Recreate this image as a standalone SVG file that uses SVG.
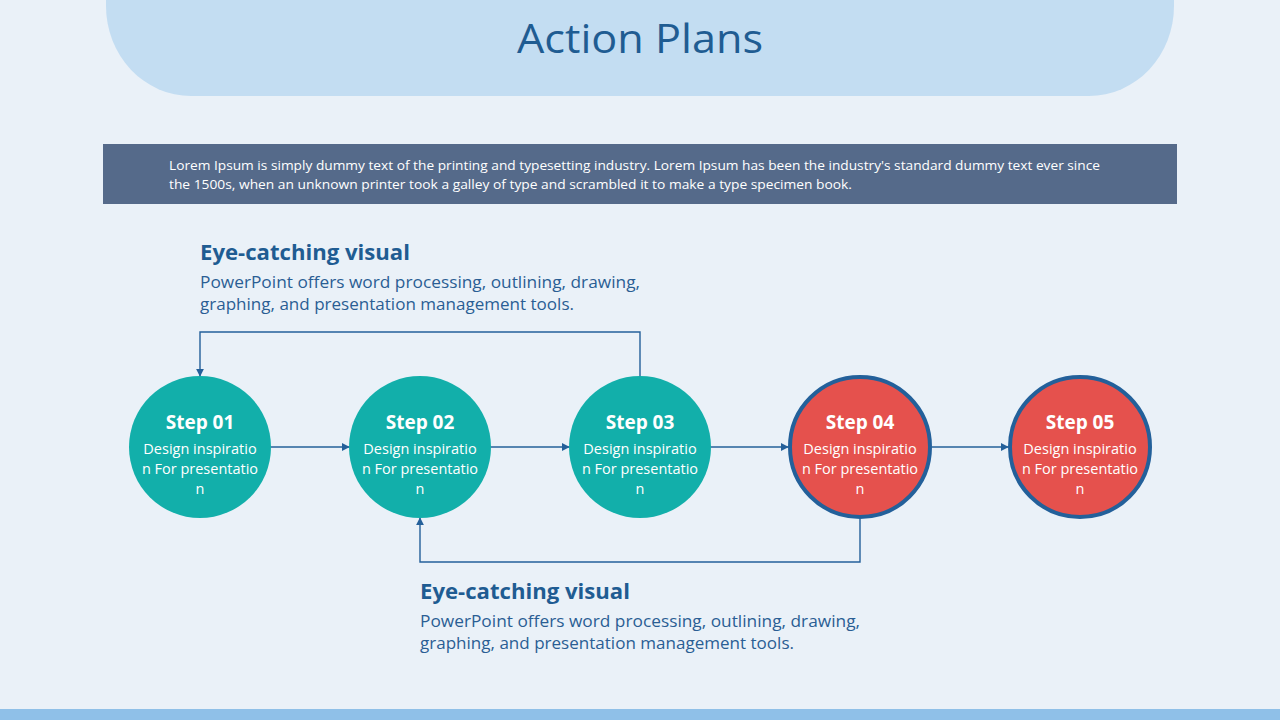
<svg xmlns="http://www.w3.org/2000/svg" width="1280" height="720" viewBox="0 0 1280 720">
<defs>
<marker id="arr" viewBox="0 0 10 10" refX="9" refY="5" markerWidth="8" markerHeight="8" markerUnits="userSpaceOnUse" orient="auto">
<path d="M0,0 L10,5 L0,10 z" fill="#24609a"/>
</marker>
<style>
.teal{fill:#12afaa}
.red{fill:#e5514d;stroke:#23609a;stroke-width:4}
.st{font-family:"Open Sans","Noto Sans",sans-serif;font-weight:700;font-size:19px;fill:#ffffff;text-anchor:middle}
.ds{font-family:"Open Sans","Noto Sans",sans-serif;font-size:14.5px;fill:#ffffff;text-anchor:middle}
.hd{font-family:"Open Sans","Noto Sans",sans-serif;font-weight:700;font-size:21px;fill:#1f5c92}
.bd{font-family:"Open Sans","Noto Sans",sans-serif;font-size:16.5px;fill:#2a5e94}
.cn{fill:none;stroke:#24609a;stroke-width:1.4}
</style>
</defs>
<rect x="0" y="0" width="1280" height="720" fill="#eaf1f8"/>
<g id="header">
<rect x="106" y="-100" width="1068" height="196" rx="85" ry="90" fill="#c3ddf2"/>
<text x="640" y="53" text-anchor="middle" font-family="Open Sans,Noto Sans,sans-serif" font-size="40" fill="#1f5c92" textLength="246" lengthAdjust="spacingAndGlyphs">Action Plans</text>
</g>
<g id="banner">
<rect x="103" y="144" width="1074" height="60" fill="#556a8a"/>
<text x="169" y="170" font-family="Open Sans,Noto Sans,sans-serif" font-size="13.5" fill="#ffffff" textLength="931" lengthAdjust="spacingAndGlyphs">Lorem Ipsum is simply dummy text of the printing and typesetting industry. Lorem Ipsum has been the industry's standard dummy text ever since</text>
<text x="169" y="189" font-family="Open Sans,Noto Sans,sans-serif" font-size="13.5" fill="#ffffff" textLength="683" lengthAdjust="spacingAndGlyphs">the 1500s, when an unknown printer took a galley of type and scrambled it to make a type specimen book.</text>
</g>
<g id="note-top">
<text class="hd" x="200" y="260" textLength="210" lengthAdjust="spacingAndGlyphs">Eye-catching visual</text>
<text class="bd" x="200" y="288" textLength="440" lengthAdjust="spacingAndGlyphs">PowerPoint offers word processing, outlining, drawing,</text>
<text class="bd" x="200" y="310" textLength="374" lengthAdjust="spacingAndGlyphs">graphing, and presentation management tools.</text>
</g>
<g id="note-bottom">
<text class="hd" x="420" y="599" textLength="210" lengthAdjust="spacingAndGlyphs">Eye-catching visual</text>
<text class="bd" x="420" y="627" textLength="440" lengthAdjust="spacingAndGlyphs">PowerPoint offers word processing, outlining, drawing,</text>
<text class="bd" x="420" y="649" textLength="374" lengthAdjust="spacingAndGlyphs">graphing, and presentation management tools.</text>
</g>
<g id="connectors">
<line class="cn" x1="271" y1="447" x2="349" y2="447" marker-end="url(#arr)"/>
<line class="cn" x1="491" y1="447" x2="569" y2="447" marker-end="url(#arr)"/>
<line class="cn" x1="711" y1="447" x2="788" y2="447" marker-end="url(#arr)"/>
<line class="cn" x1="932" y1="447" x2="1008" y2="447" marker-end="url(#arr)"/>
<polyline class="cn" points="640,376 640,332 200,332 200,376" marker-end="url(#arr)"/>
<polyline class="cn" points="860,519 860,562 420,562 420,518" marker-end="url(#arr)"/>
</g>
<g id="step01">
<circle class="teal" cx="200" cy="447" r="71"/>
<text class="st" x="200" y="429">Step 01</text>
<text class="ds" x="200" y="454">Design inspiratio</text>
<text class="ds" x="200" y="474">n For presentatio</text>
<text class="ds" x="200" y="494">n</text>
</g>
<g id="step02">
<circle class="teal" cx="420" cy="447" r="71"/>
<text class="st" x="420" y="429">Step 02</text>
<text class="ds" x="420" y="454">Design inspiratio</text>
<text class="ds" x="420" y="474">n For presentatio</text>
<text class="ds" x="420" y="494">n</text>
</g>
<g id="step03">
<circle class="teal" cx="640" cy="447" r="71"/>
<text class="st" x="640" y="429">Step 03</text>
<text class="ds" x="640" y="454">Design inspiratio</text>
<text class="ds" x="640" y="474">n For presentatio</text>
<text class="ds" x="640" y="494">n</text>
</g>
<g id="step04">
<circle class="red" cx="860" cy="447" r="70"/>
<text class="st" x="860" y="429">Step 04</text>
<text class="ds" x="860" y="454">Design inspiratio</text>
<text class="ds" x="860" y="474">n For presentatio</text>
<text class="ds" x="860" y="494">n</text>
</g>
<g id="step05">
<circle class="red" cx="1080" cy="447" r="70"/>
<text class="st" x="1080" y="429">Step 05</text>
<text class="ds" x="1080" y="454">Design inspiratio</text>
<text class="ds" x="1080" y="474">n For presentatio</text>
<text class="ds" x="1080" y="494">n</text>
</g>
<rect id="footer" x="0" y="709" width="1280" height="11" fill="#8fc0e8"/>
</svg>
